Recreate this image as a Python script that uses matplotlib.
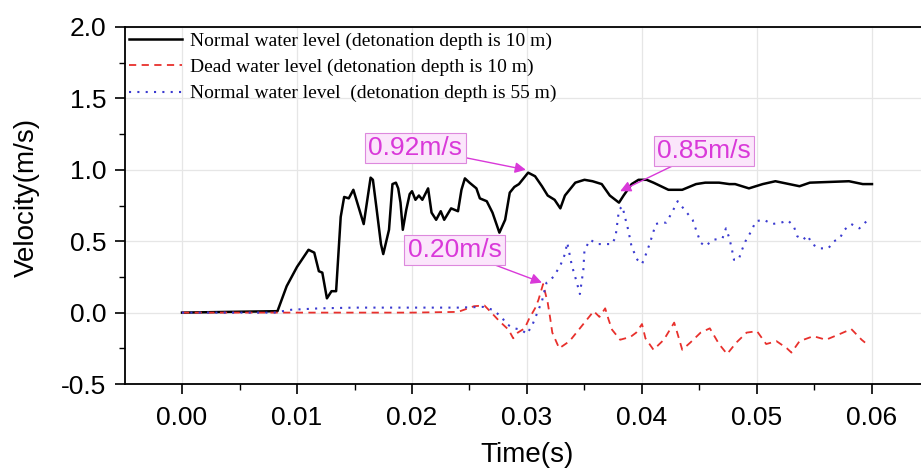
import matplotlib
matplotlib.use("Agg")
import matplotlib.pyplot as plt

# Normal water level, detonation depth 10 m
t_normal10 = [0, 0.004, 0.0083, 0.0091, 0.0100, 0.0110, 0.0115, 0.0119, 0.0122, 0.0126, 0.0130,
              0.0134, 0.0138, 0.0141, 0.0145, 0.0149, 0.0158, 0.0164, 0.0166, 0.0169, 0.0173,
              0.0175, 0.0180, 0.0183, 0.0186, 0.0188, 0.0190, 0.0192, 0.0195, 0.0198, 0.0200,
              0.0203, 0.0206, 0.0209, 0.0214, 0.0217, 0.0221, 0.0225, 0.0228, 0.0234, 0.0240,
              0.0243, 0.0246, 0.0250, 0.0256, 0.0259, 0.0265, 0.0270, 0.0276, 0.0281, 0.0285,
              0.0289, 0.0293, 0.0301, 0.0307, 0.0313, 0.0318, 0.0324, 0.0329, 0.0333, 0.0342,
              0.0350, 0.0357, 0.0365, 0.0372, 0.0380, 0.0384, 0.0391, 0.0397, 0.0404, 0.0410,
              0.0423, 0.0435, 0.0447, 0.0455, 0.0467, 0.0476, 0.0481, 0.0493, 0.0505, 0.0516,
              0.0528, 0.0537, 0.0546, 0.0563, 0.0580, 0.0592, 0.0600]
v_normal10 = [0, 0.005, 0.01, 0.185, 0.32, 0.44, 0.42, 0.29, 0.28, 0.10, 0.15,
              0.15, 0.67, 0.81, 0.80, 0.86, 0.62, 0.945, 0.93, 0.74, 0.48,
              0.41, 0.58, 0.90, 0.91, 0.87, 0.77, 0.58, 0.72, 0.83, 0.85,
              0.79, 0.82, 0.79, 0.87, 0.70, 0.65, 0.71, 0.65, 0.73, 0.71,
              0.86, 0.94, 0.91, 0.87, 0.80, 0.78, 0.70, 0.56, 0.65, 0.84,
              0.88, 0.90, 0.98, 0.955, 0.885, 0.82, 0.79, 0.73, 0.82, 0.91,
              0.93, 0.92, 0.90, 0.82, 0.77, 0.82, 0.90, 0.93, 0.93, 0.91,
              0.86, 0.86, 0.90, 0.91, 0.91, 0.90, 0.90, 0.87, 0.90, 0.92,
              0.90, 0.885, 0.91, 0.915, 0.92, 0.90, 0.90]

# Dead water level, detonation depth 10 m
t_dead10 = [0, 0.008, 0.012, 0.016, 0.020, 0.024, 0.0254, 0.0263, 0.0269, 0.0276, 0.0284,
            0.0288, 0.0292, 0.0298, 0.0302, 0.0307, 0.0310, 0.0314, 0.0318, 0.0320, 0.0322,
            0.0328, 0.0337, 0.0344, 0.0354, 0.0358, 0.0363, 0.0368, 0.0371, 0.0374, 0.0381,
            0.0390, 0.0395, 0.0400, 0.0403, 0.0410, 0.0419, 0.0428, 0.0431, 0.0435, 0.0442,
            0.0451, 0.0459, 0.0467, 0.0474, 0.0482, 0.0491, 0.0500, 0.0508, 0.0517, 0.0526,
            0.0530, 0.0537, 0.0549, 0.0560, 0.0572, 0.0582, 0.0591, 0.0594]
v_dead10 = [0, 0.0, 0.0, 0.0, 0.0, 0.005, 0.045, 0.05, 0.0, -0.06, -0.12,
            -0.18, -0.14, -0.11, -0.04, 0.03, 0.09, 0.20, 0.07, -0.03, -0.14,
            -0.25, -0.20, -0.13, -0.03, 0.01, -0.03, 0.03, -0.05, -0.12, -0.19,
            -0.17, -0.14, -0.08, -0.18, -0.26, -0.19, -0.07, -0.15, -0.26, -0.21,
            -0.14, -0.11, -0.22, -0.29, -0.21, -0.14, -0.13, -0.22, -0.20, -0.25,
            -0.28, -0.20, -0.165, -0.19, -0.15, -0.115, -0.19, -0.21]

# Normal water level, detonation depth 55 m
t_normal55 = [0, 0.008, 0.0095, 0.012, 0.015, 0.018, 0.021, 0.024, 0.0262, 0.0270, 0.0278,
              0.0282, 0.0289, 0.0295, 0.0300, 0.0305, 0.0313, 0.0317, 0.0323, 0.0329, 0.0333,
              0.0335, 0.0339, 0.0343, 0.0346, 0.0349, 0.0350, 0.0355, 0.0361, 0.0367, 0.0374,
              0.0377, 0.0380, 0.0383, 0.0385, 0.0388, 0.0391, 0.0396, 0.0400, 0.0404, 0.0407,
              0.0412, 0.0416, 0.0421, 0.0426, 0.0431, 0.0438, 0.0444, 0.0447, 0.0451, 0.0455,
              0.0462, 0.0470, 0.0473, 0.0476, 0.0478, 0.0480, 0.0484, 0.0487, 0.0490, 0.0495,
              0.0499, 0.0506, 0.0513, 0.0521, 0.0527, 0.0532, 0.0535, 0.0540, 0.0544, 0.0548,
              0.0554, 0.0562, 0.0567, 0.0572, 0.0576, 0.0582, 0.0589, 0.0594, 0.0598]
v_normal55 = [0, 0.0, 0.02, 0.03, 0.035, 0.035, 0.035, 0.035, 0.04, 0.02, -0.03,
              -0.08, -0.11, -0.12, -0.15, -0.08, 0.08, 0.21, 0.25, 0.33, 0.41,
              0.49, 0.33, 0.22, 0.13, 0.30, 0.44, 0.51, 0.48, 0.48, 0.48,
              0.53, 0.72, 0.745, 0.675, 0.58, 0.46, 0.37, 0.34, 0.42, 0.49,
              0.62, 0.63, 0.63, 0.70, 0.78, 0.71, 0.65, 0.58, 0.49, 0.465,
              0.51, 0.52, 0.59, 0.52, 0.45, 0.37, 0.37, 0.44, 0.50, 0.57,
              0.64, 0.65, 0.62, 0.63, 0.645, 0.605, 0.535, 0.51, 0.54, 0.48,
              0.45, 0.45, 0.50, 0.52, 0.58, 0.62, 0.59, 0.63, 0.66]

labels = ["Normal water level (detonation depth is 10 m)",
          "Dead water level (detonation depth is 10 m)",
          "Normal water level  (detonation depth is 55 m)"]

# annotations: text, point, text position
notes = [("0.92m/s", (0.0299, 1.0), (0.0203, 1.155)),
         ("0.20m/s", (0.0313, 0.21), (0.0237, 0.44)),
         ("0.85m/s", (0.0381, 0.85), (0.0454, 1.134))]

plt.rcParams['font.family'] = ['Liberation Sans', 'DejaVu Sans']

fig = plt.figure(figsize=(9.21, 4.72), dpi=100)
ax = fig.add_axes([0.1352, 0.1864, 0.874, 0.7564])

ax.plot(t_normal10, v_normal10, color='black', lw=1.8, label=labels[0])
ax.plot(t_dead10, v_dead10, color='#e8302c', lw=1.3, linestyle=(0, (4, 3)), label=labels[1])
ax.plot(t_normal55, v_normal55, color='#3a3ad0', lw=1.5, linestyle=(0, (1, 3)), label=labels[2])

ax.set_xlim(-0.005, 0.065)
ax.set_ylim(-0.5, 2.0)
ax.set_xticks([0, 0.01, 0.02, 0.03, 0.04, 0.05, 0.06])
ax.set_xticklabels(["0.00", "0.01", "0.02", "0.03", "0.04", "0.05", "0.06"])
ax.set_yticks([-0.5, 0.0, 0.5, 1.0, 1.5, 2.0])
ax.set_yticklabels(["-0.5", "0.0", "0.5", "1.0", "1.5", "2.0"])
ax.set_xticks([0.005, 0.015, 0.025, 0.035, 0.045, 0.055], minor=True)
ax.set_yticks([-0.25, 0.25, 0.75, 1.25, 1.75], minor=True)
ax.tick_params(which='major', direction='out', length=7, width=1.2, labelsize=19)
ax.tick_params(which='minor', direction='out', length=4, width=1.0)
ax.tick_params(axis='x', pad=9)
ax.tick_params(axis='y', pad=6)
ax.grid(True, which='major', color='#e6e6e6', lw=0.9)
ax.set_axisbelow(True)
for s in ax.spines.values():
    s.set_linewidth(1.3)

ax.set_xlabel("Time(s)", fontsize=20)
ax.set_ylabel("Velocity(m/s)", fontsize=20)
ax.xaxis.set_label_coords(0.5, -0.163)
ax.yaxis.set_label_coords(-0.105, 0.524)

leg = ax.legend(loc='upper left', frameon=False, prop={'family': 'Liberation Serif', 'size': 14},
                handlelength=2.7, handletextpad=0.4, labelspacing=0.45,
                borderaxespad=0.05, borderpad=0.2)

for txt, xy, xytext in notes:
    ax.annotate(txt, xy=xy, xytext=xytext, fontsize=19, color='#d939d9',
                ha='center', va='center',
                bbox=dict(boxstyle='square,pad=0.12', fc='#fbe6fb', ec='#dd88dd', lw=0.8),
                arrowprops=dict(arrowstyle='-|>', color='#d939d9', lw=1.0, mutation_scale=16,
                                shrinkA=0, shrinkB=0))

fig.savefig("out.png", dpi=100)
